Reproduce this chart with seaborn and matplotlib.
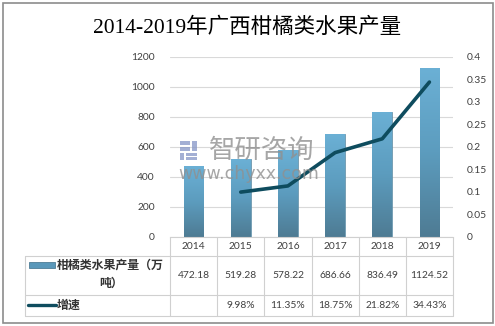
import numpy as np
import matplotlib
matplotlib.use("Agg")
import matplotlib.pyplot as plt
import seaborn as sns
from matplotlib.patches import Rectangle
from matplotlib.lines import Line2D
from matplotlib.colors import LinearSegmentedColormap

years = ["2014", "2015", "2016", "2017", "2018", "2019"]
production = [472.18, 519.28, 578.22, 686.66, 836.49, 1124.52]
growth = [None, 0.0998, 0.1135, 0.1875, 0.2182, 0.3443]
growth_labels = ["", "9.98%", "11.35%", "18.75%", "21.82%", "34.43%"]
prod_labels = ["472.18", "519.28", "578.22", "686.66", "836.49", "1124.52"]
series1_name = ["柑橘类水果产量（万", "吨）"]
series2_name = "增速"
title = "2014-2019年广西柑橘类水果产量"
left_ticks = [0, 200, 400, 600, 800, 1000, 1200]
right_ticks = [0, 0.05, 0.1, 0.15, 0.2, 0.25, 0.3, 0.35, 0.4]
right_tick_labels = ["0", "0.05", "0.1", "0.15", "0.2", "0.25", "0.3", "0.35", "0.4"]
wm_cn = "智研咨询"
wm_url = "www.chyxx.com"

sns.set_style("white")
plt.rcParams['font.family'] = ['Lato', 'Noto Sans CJK SC', 'DejaVu Sans']

W, H = 495, 326
fig = plt.figure(figsize=(W / 100, H / 100), dpi=100)

def fx(x):
    return x / W

def fy(y):
    return 1 - y / H

L, R, T, B = 170, 453, 57, 237
ax = fig.add_axes([fx(L), fy(B), fx(R) - fx(L), fy(T) - fy(B)])

sns.barplot(x=years, y=production, ax=ax, color="#5A9CC0", width=0.42, saturation=1)
cmap = LinearSegmentedColormap.from_list("g", ["#4E7B93", "#5C9CBE", "#6BB0D5"])
grad = np.linspace(0, 1, 256).reshape(-1, 1)
for p in ax.patches:
    x0, y0 = p.get_x(), p.get_y()
    w, h = p.get_width(), p.get_height()
    p.set_facecolor("none")
    p.set_edgecolor("#5F8FA8")
    p.set_linewidth(0.6)
    im = ax.imshow(grad, cmap=cmap, aspect="auto", origin="lower",
                   extent=[x0, x0 + w, y0, y0 + h], zorder=2)
    im.set_clip_path(p)

ax.set_xlim(-0.5, len(years) - 0.5)
ax.set_ylim(0, 1200)
ax.set_yticks(left_ticks)
ax.set_yticklabels([str(t) for t in left_ticks], fontsize=7.4, color="#404040")
ax.tick_params(axis="y", length=0, pad=11)
ax.set_xticks([])
ax.set_xlabel("")
ax.grid(axis="y", color="#D9D9D9", linewidth=0.8, zorder=0)
ax.set_axisbelow(True)
for s in ["top", "right", "left"]:
    ax.spines[s].set_visible(False)
ax.spines["bottom"].set_color("#D0D0D0")
ax.spines["bottom"].set_linewidth(0.8)

ax2 = ax.twinx()
xs = np.arange(len(years))
gx = [x for x, g in zip(xs, growth) if g is not None]
gy = [g for g in growth if g is not None]
sns.lineplot(x=gx, y=gy, ax=ax2, color="#0E4C5E", linewidth=2.6, zorder=5)
ax2.set_ylim(0, 0.4)
ax2.set_yticks(right_ticks)
ax2.set_yticklabels(right_tick_labels, fontsize=7.4, color="#404040")
ax2.tick_params(axis="y", length=0, pad=10)
for s in ["top", "right", "left", "bottom"]:
    ax2.spines[s].set_visible(False)
ax2.set_xlim(-0.5, len(years) - 0.5)

# watermark
fig.text(fx(262), fy(150), wm_cn, fontsize=19, color="#909090", alpha=0.8,
         ha="center", va="center", family=['Noto Sans CJK SC'], zorder=10)
fig.text(fx(249), fy(174), wm_url, fontsize=12.5, color="#909090", alpha=0.8,
         ha="center", va="center", family=['DejaVu Sans'], zorder=10)
# logo blocks
logo = [(180, 141, 10, 4), (180, 147, 10, 4), (180, 153, 4, 7), (192, 141, 5, 10),
        (186, 153, 11, 3), (186, 157, 11, 3)]
for (lx, ly, lw, lh) in logo:
    fig.patches.append(Rectangle((fx(lx), fy(ly + lh)), fx(lw), fy(ly) - fy(ly + lh),
                                 transform=fig.transFigure, facecolor="#8595C6",
                                 alpha=0.75, edgecolor="none", zorder=10))

# title
fig.text(0.5, fy(28), title, fontsize=15.5, ha="center", va="center", color="#000000",
         family=['Liberation Serif', 'Noto Sans CJK SC'], fontweight="normal")

# outer border
fig.patches.append(Rectangle((fx(2.5), fy(322.5)), fx(490), fy(2.5) - fy(322.5),
                             transform=fig.transFigure, facecolor="none",
                             edgecolor="#8C8C8C", linewidth=1.2))

# table lines
lc = "#D0D0D0"
col_edges = [L + i * (R - L) / len(years) for i in range(len(years) + 1)]
def hline(x0, x1, y):
    fig.add_artist(Line2D([fx(x0), fx(x1)], [fy(y), fy(y)], color=lc, linewidth=0.8))
def vline(x, y0, y1):
    fig.add_artist(Line2D([fx(x), fx(x)], [fy(y0), fy(y1)], color=lc, linewidth=0.8))
hline(25, R, 256)
hline(25, R, 295)
hline(25, R, 316)
vline(25, 256, 316)
for x in col_edges:
    vline(x, B, 316)

tc = "#404040"
for i, yr in enumerate(years):
    cx = (col_edges[i] + col_edges[i + 1]) / 2
    fig.text(fx(cx), fy(246.5), yr, fontsize=7.4, ha="center", va="center", color=tc)
    fig.text(fx(cx), fy(275.5), prod_labels[i], fontsize=7.4, ha="center", va="center", color=tc)
    fig.text(fx(cx), fy(305.5), growth_labels[i], fontsize=7.4, ha="center", va="center", color=tc)

# legend keys
fig.patches.append(Rectangle((fx(29), fy(268)), fx(26), fy(262) - fy(268),
                             transform=fig.transFigure, facecolor="#5A98BA",
                             edgecolor="#4E7D96", linewidth=0.6))
fig.add_artist(Line2D([fx(28), fx(56)], [fy(305), fy(305)], color="#0E4C5E", linewidth=2.4))
fig.text(fx(57), fy(265), series1_name[0], fontsize=8.6, ha="left", va="center",
         color="#333333", fontweight="bold")
fig.text(fx(111), fy(283), series1_name[1], fontsize=8.6, ha="center", va="center",
         color="#333333", fontweight="bold")
fig.text(fx(57), fy(305), series2_name, fontsize=8.6, ha="left", va="center",
         color="#333333", fontweight="bold")

fig.savefig("out.png", dpi=100)
